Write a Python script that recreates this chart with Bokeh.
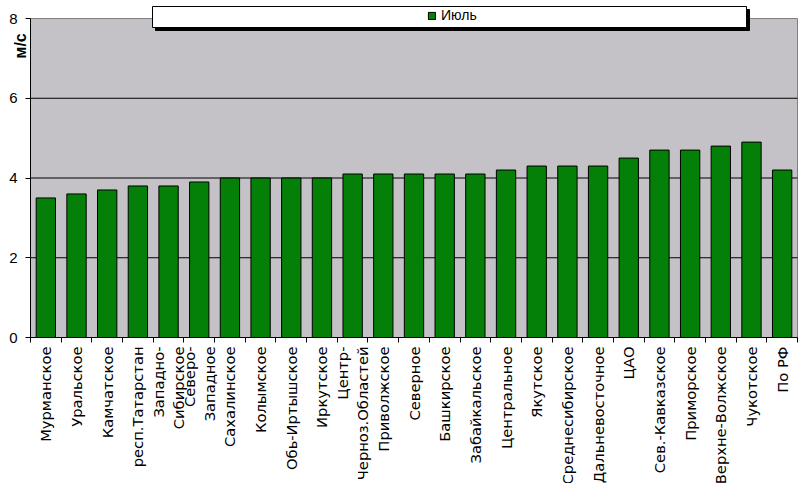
import math
from bokeh.plotting import figure
from bokeh.models import (Range1d, LinearAxis, FixedTicker, CustomJSTickFormatter,
                          Legend, LegendItem, BoxAnnotation, Label)
from bokeh.embed import file_html
from bokeh.resources import INLINE

categories = ["Мурманское", "Уральское", "Камчатское", "респ.Татарстан",
              "Западно-\nСибирское", "Северо-\nЗападное", "Сахалинское", "Колымское",
              "Обь-Иртышское", "Иркутское", "Центр-\nЧерноз.Областей", "Приволжское",
              "Северное", "Башкирское", "Забайкальское", "Центральное", "Якутское",
              "Среднесибирское", "Дальневосточное", "ЦАО", "Сев.-Кавказское",
              "Приморское", "Верхне-Волжское", "Чукотское", "По РФ"]
july = [3.5, 3.6, 3.7, 3.8, 3.8, 3.9, 4.0, 4.0, 4.0, 4.0, 4.1, 4.1, 4.1, 4.1, 4.1,
        4.2, 4.3, 4.3, 4.3, 4.5, 4.7, 4.7, 4.8, 4.9, 4.2]
y_ticks = [0, 2, 4, 6, 8]
series_name = "Июль"
y_title = "м/с"

FONT = "Liberation Sans"
XFONT = "DejaVu Sans"
BAR = "#047F07"
PLOT_BG = "#C4C2C6"

n = len(categories)
centers = [i + 0.5 for i in range(n)]

# layout (pixels): plot area spans x 30..797, y 18..337 of the 801x483 canvas;
# the frame covers the whole canvas so nothing is clipped
W, H = 801, 483
PL, PR, PT, PB = 30, 797, 18, 337
ppx = (PR - PL) / n
ppy = (PB - PT) / (y_ticks[-1] - y_ticks[0])

p = figure(width=W, height=H,
           x_range=Range1d(-PL / ppx, n + (W - PR) / ppx),
           y_range=Range1d(y_ticks[0] - (H - PB) / ppy, y_ticks[-1] + PT / ppy),
           output_backend="svg", toolbar_location=None, x_axis_location=None,
           min_border_left=0, min_border_right=0, min_border_top=0, min_border_bottom=0)
p.background_fill_color = "white"
p.border_fill_color = "white"
p.outline_line_color = None
p.xgrid.visible = False
p.ygrid.visible = False

# plot area background with grey border
p.add_layout(BoxAnnotation(left=0, right=n, bottom=y_ticks[0], top=y_ticks[-1],
                           fill_color=PLOT_BG, fill_alpha=1, line_color="#808080",
                           line_alpha=1, line_width=1, level="underlay"))

# horizontal gridlines
grid_y = y_ticks[1:-1]
p.segment(x0=[0] * len(grid_y), x1=[n] * len(grid_y), y0=grid_y, y1=grid_y,
          line_color="black", line_width=1)

edge_axis = LinearAxis(ticker=FixedTicker(ticks=list(range(n + 1))), bounds=(0, n),
                       fixed_location=y_ticks[0],
                       formatter=CustomJSTickFormatter(code="return ''"),
                       major_tick_out=5, major_tick_in=0, minor_tick_line_color=None,
                       axis_line_color="black", major_tick_line_color="black",
                       major_label_text_font_size="1px", major_label_standoff=0)
p.add_layout(edge_axis, "below")

cat_axis = LinearAxis(ticker=FixedTicker(ticks=centers), fixed_location=y_ticks[0],
                      major_label_overrides={c: lab for c, lab in zip(centers, categories)},
                      axis_line_color=None, major_tick_line_color=None,
                      minor_tick_line_color=None, major_tick_out=0, major_tick_in=0,
                      major_label_orientation=math.pi / 2,
                      major_label_text_font=XFONT, major_label_text_font_size="14.7px",
                      major_label_text_color="black", major_label_standoff=9)
p.add_layout(cat_axis, "below")

yax = p.yaxis[0]
yax.fixed_location = 0
yax.bounds = (y_ticks[0], y_ticks[-1])
yax.ticker = FixedTicker(ticks=y_ticks)
yax.major_tick_out = 5
yax.major_tick_in = 0
yax.minor_tick_line_color = None
yax.axis_line_color = "black"
yax.major_tick_line_color = "black"
yax.major_label_text_font = FONT
yax.major_label_text_font_size = "15px"
yax.major_label_text_color = "black"
yax.major_label_standoff = 8

r = p.vbar(x=centers, top=july, width=0.63, fill_color=BAR, line_color="black", line_width=1)

p.add_layout(Label(x=20, y=7.63, x_units="canvas", y_units="data", text=y_title,
                   angle=math.pi / 2, text_align="right", text_baseline="middle",
                   text_font=FONT, text_font_size="16px", text_font_style="bold",
                   text_color="black"))

shadow = BoxAnnotation(left=155, right=749, top=9, bottom=30,
                       left_units="canvas", right_units="canvas",
                       top_units="canvas", bottom_units="canvas",
                       fill_color="black", fill_alpha=1, line_color="black", line_alpha=1)
box = BoxAnnotation(left=152, right=746, top=6, bottom=27,
                    left_units="canvas", right_units="canvas",
                    top_units="canvas", bottom_units="canvas",
                    fill_color="white", fill_alpha=1, line_color="black", line_alpha=1,
                    line_width=1)
p.add_layout(shadow)
p.add_layout(box)

legend = Legend(items=[LegendItem(label=series_name, renderers=[r])],
                location=(427, 460), orientation="horizontal",
                padding=0, margin=0, spacing=0, border_line_color=None,
                background_fill_alpha=0, glyph_width=9, glyph_height=9,
                label_standoff=5, label_height=9,
                label_text_font=FONT, label_text_font_size="14px", label_text_color="black")
p.add_layout(legend, "center")

open("out.html", "w").write(file_html(p, INLINE))
